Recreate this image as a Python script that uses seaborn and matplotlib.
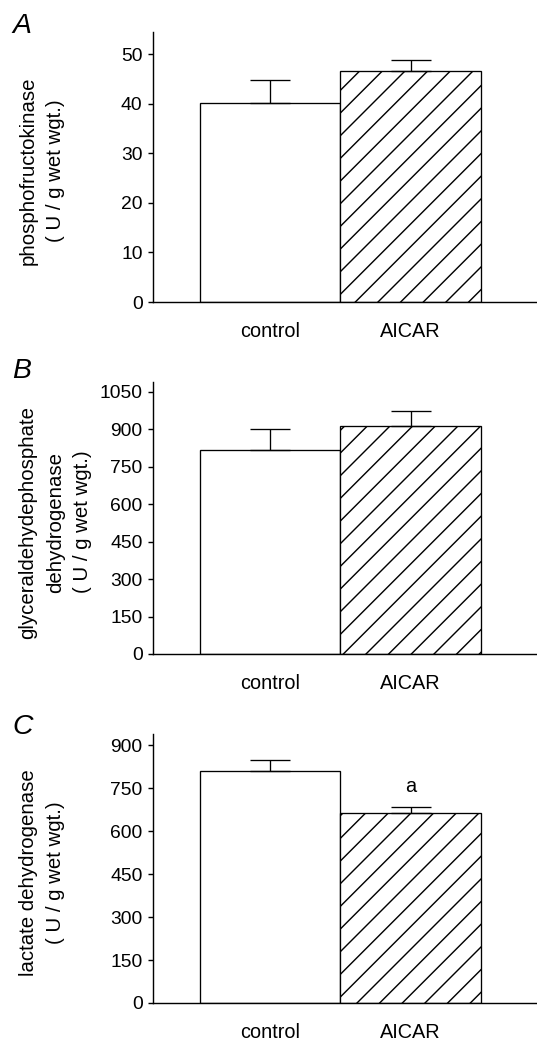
import pandas as pd
import matplotlib
matplotlib.use("Agg")
import matplotlib.pyplot as plt
import seaborn as sns

# values (mean and upper error)
groups = ["control", "AICAR"]
pfk_mean = [40.2, 46.7]
pfk_err = [4.6, 2.15]
gapdh_mean = [818, 913]
gapdh_err = [85, 59]
ldh_mean = [811, 662]
ldh_err = [38, 21]

panels = [
    ("A", pfk_mean, pfk_err, "phosphofructokinase\n( U / g wet wgt.)",
     [0, 10, 20, 30, 40, 50], 54.5, -0.228),
    ("B", gapdh_mean, gapdh_err,
     "glyceraldehydephosphate\ndehydrogenase\n( U / g wet wgt.)",
     [0, 150, 300, 450, 600, 750, 900, 1050], 1090, -0.159),
    ("C", ldh_mean, ldh_err, "lactate dehydrogenase\n( U / g wet wgt.)",
     [0, 150, 300, 450, 600, 750, 900], 940, -0.228),
]

sns.set_theme(style="ticks")
plt.rcParams["font.family"] = ["Liberation Sans", "DejaVu Sans"]
plt.rcParams["text.color"] = "black"
plt.rcParams["hatch.linewidth"] = 0.75
plt.rcParams["hatch.color"] = "black"

dpi = 136
fig = plt.figure(figsize=(537 / dpi, 1040 / dpi), dpi=dpi)

# axes boxes in figure fractions (left, bottom, width, height)
boxes = [
    (0.2849, 0.7096, 0.7151, 0.2596),
    (0.2849, 0.3712, 0.7151, 0.2615),
    (0.2849, 0.0356, 0.7151, 0.2587),
]
letter_y = [1 - 13 / 1040, 1 - 358 / 1040, 1 - 714 / 1040]

for i, (letter, means, errs, ylab, yticks, ytop, labx) in enumerate(panels):
    ax = fig.add_axes(boxes[i])
    df = pd.DataFrame({"group": groups, "value": means})
    sns.barplot(data=df, x="group", y="value", ax=ax, color="white",
                saturation=1, edgecolor="black", linewidth=0.7,
                width=1.0, errorbar=None, zorder=2)
    ax.patches[1].set_hatch("//")
    ax.errorbar(x=[0, 1], y=means, yerr=[[0, 0], errs], fmt="none",
                ecolor="black", elinewidth=0.7, capsize=10.6,
                capthick=0.7, zorder=3)

    ax.set_xlim(-0.835, 1.9)
    ax.set_ylim(0, ytop)
    ax.set_yticks(yticks)
    ax.set_xlabel("")
    ax.set_ylabel(ylab, fontsize=10.8, color="black", linespacing=1.55)
    ax.yaxis.set_label_coords(labx, 0.485)

    sns.despine(ax=ax)
    for s in ["left", "bottom"]:
        ax.spines[s].set_linewidth(0.75)
        ax.spines[s].set_color("black")
    ax.tick_params(axis="y", length=2.5, width=0.75, pad=3,
                   labelsize=10.2, colors="black")
    ax.tick_params(axis="x", length=0, pad=10.5, labelsize=10.5,
                   colors="black")

    fig.text(12 / 537, letter_y[i], letter, fontsize=15, style="italic",
             ha="left", va="top")

    if letter == "C":
        ax.text(1, 722, "a", ha="center", va="bottom", fontsize=10.5)

fig.savefig("out.png", dpi=dpi)
